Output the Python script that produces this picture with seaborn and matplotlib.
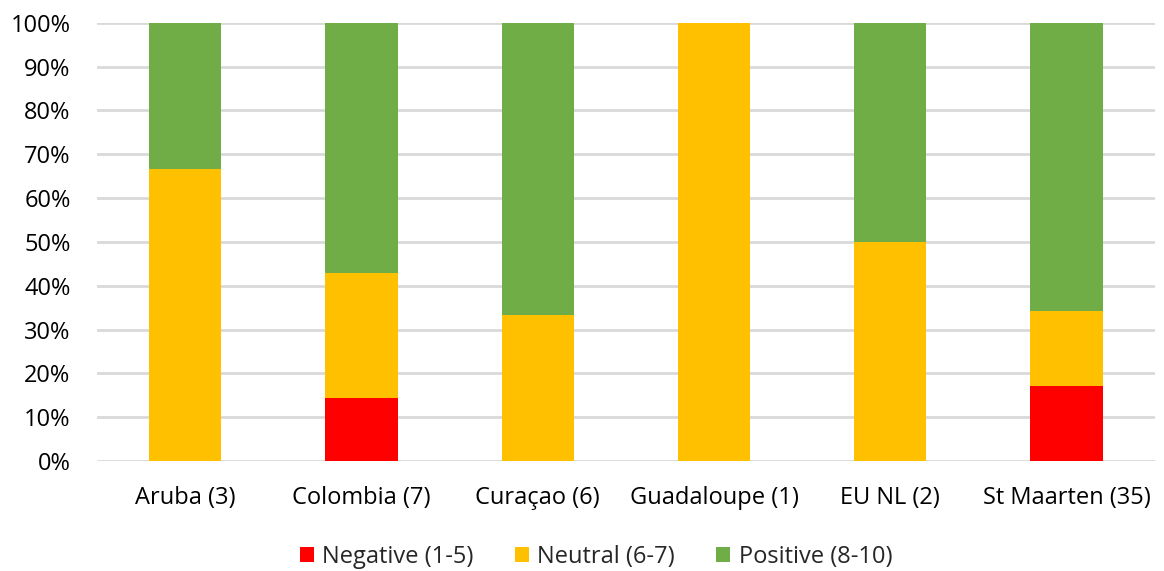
import pandas as pd
import matplotlib.pyplot as plt
import seaborn as sns
from matplotlib.patches import Patch
from matplotlib.ticker import PercentFormatter

# --- Data (share of answers per location, %) ---
locations = ["Aruba (3)", "Colombia (7)", "Curaçao (6)", "Guadaloupe (1)", "EU NL (2)", "St Maarten (35)"]
negative = [0.0, 14.3, 0.0, 0.0, 0.0, 17.1]
neutral = [66.7, 28.6, 33.3, 100.0, 50.0, 17.1]
positive = [33.3, 57.1, 66.7, 0.0, 50.0, 65.8]

series_names = ["Negative (1-5)", "Neutral (6-7)", "Positive (8-10)"]
colors = ["#FF0000", "#FFC000", "#70AD47"]

df = pd.DataFrame({"Location": locations, "neg": negative, "neu": neutral, "pos": positive})
# cumulative tops so the bars can be layered from the tallest down
df["top_neg"] = df["neg"]
df["top_neu"] = df["neg"] + df["neu"]
df["top_pos"] = df["neg"] + df["neu"] + df["pos"]

sns.set_theme(style="white")
plt.rcParams["font.family"] = ["Open Sans", "DejaVu Sans"]

fig = plt.figure(figsize=(11.64, 5.71), dpi=100)
ax = fig.add_axes([0.0833, 0.1926, 0.9087, 0.7674])

for col, color in zip(["top_pos", "top_neu", "top_neg"], colors[::-1]):
    sns.barplot(data=df, x="Location", y=col, color=color, width=0.41,
                saturation=1, ax=ax, zorder=3, linewidth=0)

ax.set_ylim(0, 100)
ax.set_yticks(range(0, 101, 10))
ax.yaxis.set_major_formatter(PercentFormatter(decimals=0))
ax.grid(axis="y", color="#D9D9D9", linewidth=2, zorder=0)
ax.set_axisbelow(True)
for s in ax.spines.values():
    s.set_visible(False)
ax.set_xlabel("")
ax.set_ylabel("")
ax.tick_params(axis="both", length=0, labelsize=17, colors="black")
ax.tick_params(axis="x", pad=18)
ax.tick_params(axis="y", pad=19)

handles = [Patch(facecolor=c, edgecolor="none") for c in colors]
fig.legend(handles, series_names, loc="center", bbox_to_anchor=(0.512, 0.024), ncol=3,
           frameon=False, fontsize=17, handlelength=0.6, handleheight=0.6,
           handletextpad=0.35, columnspacing=1.75)

plt.savefig("out.png", dpi=100)
